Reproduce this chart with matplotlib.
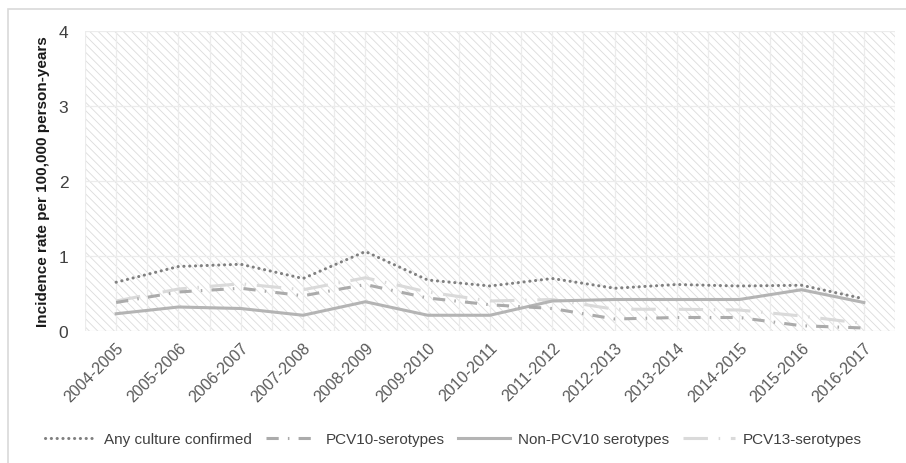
import matplotlib
matplotlib.use("Agg")
import matplotlib.pyplot as plt
from matplotlib.patches import Rectangle
import numpy as np

seasons = ["2004-2005", "2005-2006", "2006-2007", "2007-2008", "2008-2009", "2009-2010",
           "2010-2011", "2011-2012", "2012-2013", "2013-2014", "2014-2015", "2015-2016", "2016-2017"]
any_culture = [0.65, 0.86, 0.89, 0.70, 1.06, 0.68, 0.60, 0.70, 0.57, 0.62, 0.60, 0.61, 0.43]
pcv10 = [0.38, 0.52, 0.57, 0.47, 0.62, 0.44, 0.35, 0.30, 0.16, 0.18, 0.18, 0.07, 0.04]
non_pcv10 = [0.23, 0.32, 0.30, 0.21, 0.39, 0.21, 0.21, 0.40, 0.42, 0.42, 0.42, 0.55, 0.38]
pcv13 = [0.40, 0.56, 0.63, 0.55, 0.71, 0.52, 0.40, 0.42, 0.29, 0.29, 0.28, 0.20, 0.10]
y_ticks = [0, 1, 2, 3, 4]

plt.rcParams['font.family'] = ['Liberation Sans', 'DejaVu Sans']
plt.rcParams['hatch.linewidth'] = 0.6
plt.rcParams['hatch.color'] = '#dcdcdc'

fig = plt.figure(figsize=(9.06, 4.64), dpi=100)
# outer border
fig.patches.append(Rectangle((8/906, -0.1), 1.2, (464-10)/464 + 0.1, transform=fig.transFigure,
                             fill=False, edgecolor='#d9d9d9', linewidth=1.2, zorder=0))

ax = fig.add_axes([85/906, 1-332/464, 810/906, 300/464])
x = np.arange(len(seasons))
ax.set_xlim(-0.5, len(seasons)-0.5)
ax.set_ylim(0, 4)

# hatched background
ax.add_patch(Rectangle((0, 0), 1, 1, transform=ax.transAxes, facecolor='white',
                       hatch='\\\\\\\\', edgecolor='#dcdcdc', linewidth=0, zorder=0))

# grid
for gx in np.arange(-0.5, len(seasons), 0.5):
    ax.axvline(gx, color='#ececec', linewidth=0.9, zorder=1)
for gy in y_ticks:
    ax.axhline(gy, color='#ececec', linewidth=0.9, zorder=1)

lw = 2.2
ax.plot(x, any_culture, color='#808080', linewidth=lw, linestyle=(0, (0.05, 1.85)),
        dash_capstyle='round', label='Any culture confirmed', zorder=5)
ax.plot(x, pcv10, color='#ababab', linewidth=lw, linestyle=(0, (4, 3, 0.5, 3)),
        label='PCV10-serotypes', zorder=4)
ax.plot(x, non_pcv10, color='#b4b4b4', linewidth=lw, linestyle='-',
        label='Non-PCV10 serotypes', zorder=3)
ax.plot(x, pcv13, color='#dadada', linewidth=lw, linestyle=(0, (8, 3.5, 0.5, 3.5)),
        label='PCV13-serotypes', zorder=2)

for s in ax.spines.values():
    s.set_visible(False)
ax.set_yticks(y_ticks)
ax.set_yticklabels([str(v) for v in y_ticks], fontsize=12.5, color='#404040')
ax.set_xticks(x)
ax.set_xticklabels(seasons, rotation=45, ha='right', rotation_mode='anchor',
                   fontsize=11.5, color='#595959')
ax.tick_params(axis='both', length=0)
ax.tick_params(axis='y', pad=12)
ax.tick_params(axis='x', pad=6)
ax.set_ylabel('Incidence rate per 100,000 person-years', fontsize=11,
              fontweight='bold', color='#1a1a1a', labelpad=6)

leg = fig.legend(loc='center', bbox_to_anchor=(0.5, 1-440/464), ncol=4, frameon=False,
                 fontsize=11, handlelength=3.4, columnspacing=0.9, handletextpad=0.5)
for t in leg.get_texts():
    t.set_color('#404040')

fig.savefig('out.png', dpi=100)
